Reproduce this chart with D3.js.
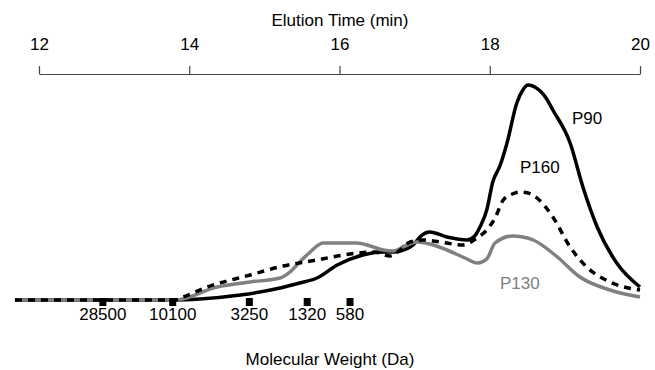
<!DOCTYPE html>
<html><head><meta charset="utf-8">
<script src="https://cdn.jsdelivr.net/npm/d3@7"></script>
<style>body{margin:0;background:#fff}svg{display:block}text{font-family:"Liberation Sans",Arial,sans-serif}</style>
</head><body><svg id="c" width="655" height="370"></svg>
<script>
const timeTicks = [12, 14, 16, 18, 20];
const p90Time = [11.68,13.81,14.14,14.68,15.21,15.47,15.70,15.97,16.31,16.58,16.74,16.85,16.98,17.07,17.20,17.43,17.70,17.80,17.87,17.96,18.04,18.14,18.23,18.36,18.44,18.51,18.60,18.74,18.84,19.07,19.24,19.43,19.69,20.00];
const p90Value = [0,0,1,5,12,17,22,35,45,48,48,50,55,63,68,63,60,64,73,90,118,135,157,197,210,215,213,203,190,157,113,73,37,13];
const p160Time = [11.68,13.81,13.92,14.24,14.81,15.25,15.70,16.14,16.47,16.67,16.81,16.94,17.11,17.34,17.64,17.83,17.96,18.07,18.18,18.30,18.40,18.51,18.63,18.84,19.07,19.29,19.60,20.00];
const p160Value = [0,0,3,13,25,34,40,46,48,44,50,58,60,58,55,62,70,82,100,106,108,107,102,83,53,33,18,10];
const p130Time = [11.68,13.81,14.37,14.81,15.21,15.34,15.47,15.61,15.78,16.01,16.23,16.41,16.58,16.71,16.87,17.03,17.20,17.43,17.67,17.84,17.96,18.07,18.30,18.44,18.58,18.90,19.20,19.60,20.00];
const p130Value = [0,0,13,18,22,28,38,48,57,57,57,54,50,49,54,58,56,50,42,37,41,57,64,63,60,43,23,10,3];
const mwLabels = ["28500","10100","3250","1320","580"];
const mwTimes = [12.85, 13.78, 14.80, 15.57, 16.14];

const svg = d3.select("#c");
const x = d3.scaleLinear().domain([12, 20]).range([39, 640]);
const y = d3.scaleLinear().domain([0, 220]).range([300, 80]);
const FS = 17;

// top axis
const ax = svg.append("g").attr("transform", "translate(0,74)")
  .call(d3.axisTop(x).tickValues(timeTicks).tickFormat(d3.format("d")).tickSize(8).tickSizeOuter(0).tickPadding(16));
ax.select(".domain").attr("stroke", "#444").attr("stroke-width", 1.2);
ax.selectAll(".tick line").attr("stroke", "#444").attr("stroke-width", 1.2);
ax.selectAll(".tick text").attr("font-size", FS).attr("fill", "#000").attr("font-family", "Liberation Sans, Arial, sans-serif");
svg.append("text").attr("x", 340).attr("y", 26).attr("text-anchor", "middle").attr("font-size", FS).text("Elution Time (min)");

const line = d3.line().x(d => x(d[0])).y(d => y(d[1])).curve(d3.curveMonotoneX);
const zip = (a, b) => a.map((t, i) => [t, b[i]]);

svg.append("path").datum(zip(p90Time, p90Value)).attr("d", line)
  .attr("fill", "none").attr("stroke", "#000").attr("stroke-width", 3.5).attr("stroke-linejoin", "round");
svg.append("path").datum(zip(p130Time, p130Value)).attr("d", line)
  .attr("fill", "none").attr("stroke", "#808080").attr("stroke-width", 3.5).attr("stroke-linejoin", "round");
svg.append("path").datum(zip(p160Time, p160Value)).attr("d", line)
  .attr("fill", "none").attr("stroke", "#000").attr("stroke-width", 3.5).attr("stroke-dasharray", "7,6");

// MW markers
svg.selectAll("rect.mw").data(mwTimes).enter().append("rect").attr("class", "mw")
  .attr("x", d => x(d) - 3.5).attr("y", 298).attr("width", 7).attr("height", 8).attr("fill", "#000");
svg.selectAll("text.mw").data(mwLabels).enter().append("text").attr("class", "mw")
  .attr("x", (d, i) => x(mwTimes[i])).attr("y", 320).attr("text-anchor", "middle").attr("font-size", FS).text(d => d);
svg.append("text").attr("x", 330).attr("y", 365).attr("text-anchor", "middle").attr("font-size", FS).text("Molecular Weight (Da)");

// series labels
svg.append("text").attr("x", 572).attr("y", 124).attr("font-size", FS).text("P90");
svg.append("text").attr("x", 520).attr("y", 173).attr("font-size", FS).text("P160");
svg.append("text").attr("x", 500).attr("y", 289).attr("font-size", FS).attr("fill", "#808080").text("P130");
</script></body></html>
